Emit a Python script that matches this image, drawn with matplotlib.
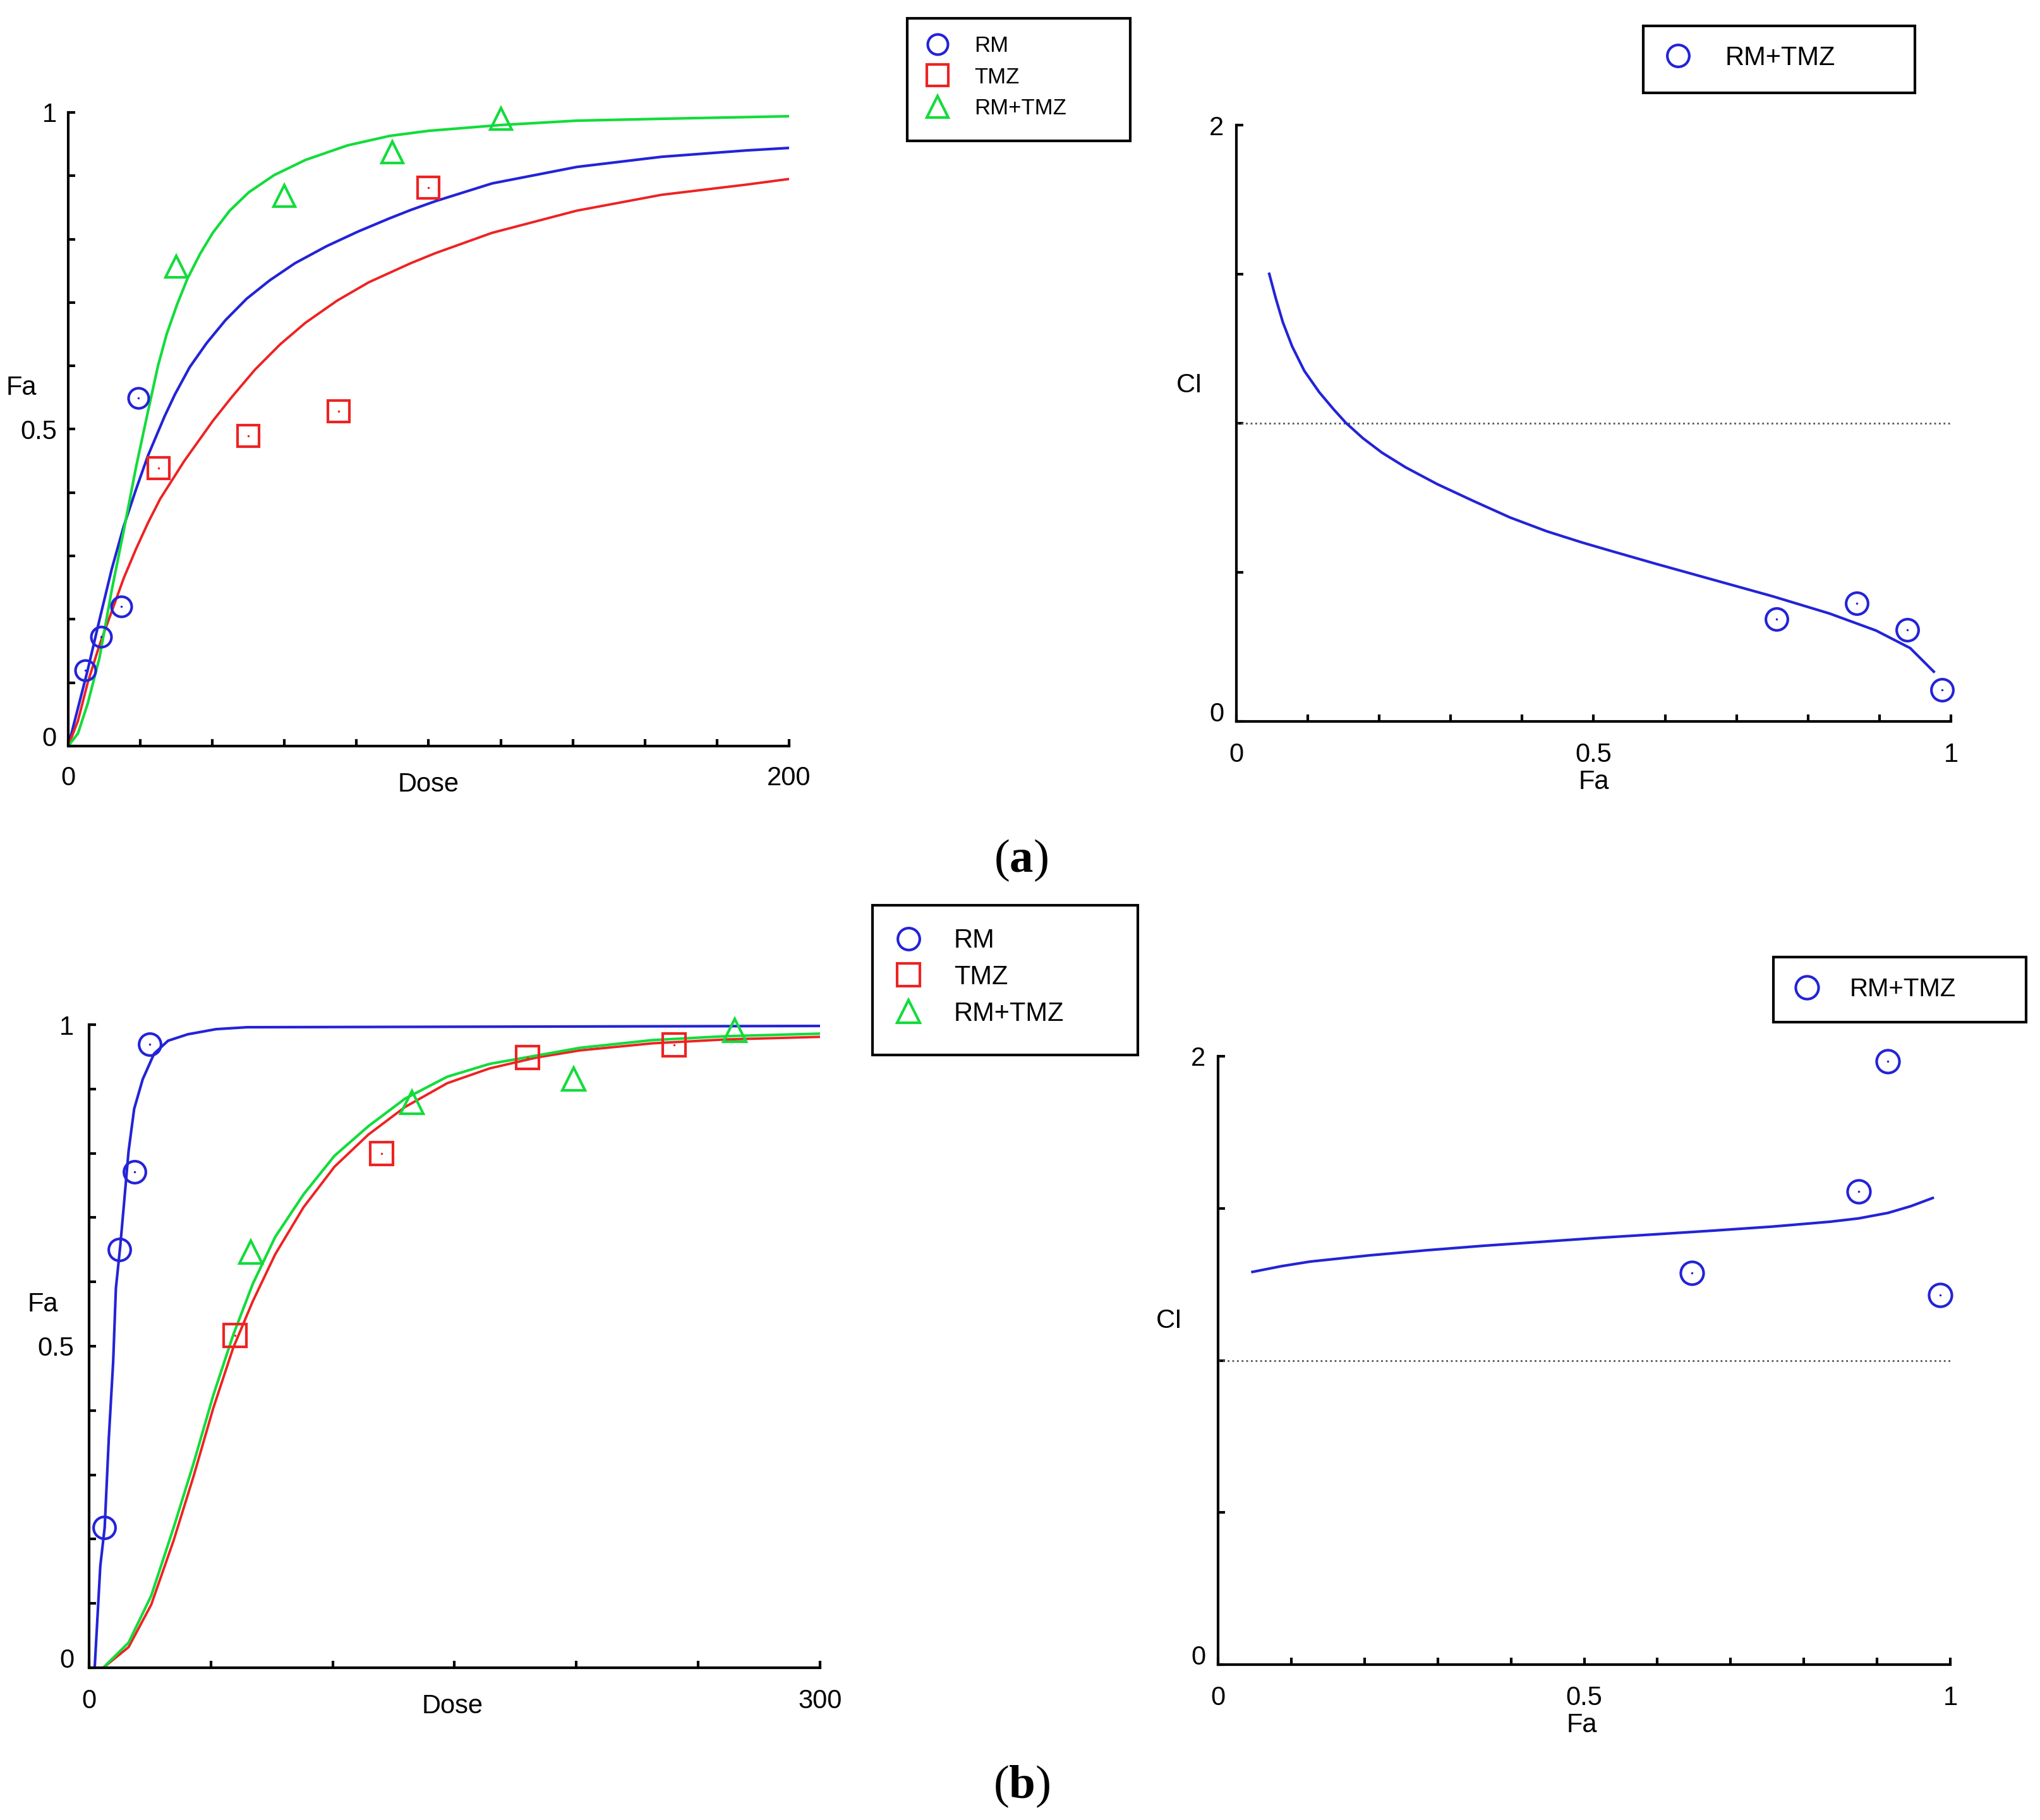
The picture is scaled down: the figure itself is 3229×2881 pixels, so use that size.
import numpy as np
import matplotlib
matplotlib.use("Agg")
import matplotlib.pyplot as plt
from matplotlib.patches import Rectangle

plt.rcParams['font.family'] = ['Liberation Sans', 'DejaVu Sans']
plt.rcParams['mathtext.fontset'] = 'custom'
plt.rcParams['mathtext.rm'] = 'Liberation Serif'
plt.rcParams['mathtext.bf'] = 'Liberation Serif:bold'

BLUE = "#2323d8"
RED = "#ee2222"
GREEN = "#12dc3a"

# ---------- panel (a) : dose-effect ----------
a_rm_dose = [4.7, 9.1, 14.8, 19.4]
a_rm_fa = [0.12, 0.172, 0.22, 0.549]
a_tmz_dose = [25, 50, 75, 100]
a_tmz_fa = [0.439, 0.49, 0.528, 0.881]
a_combo_dose = [30, 60, 90, 120]
a_combo_fa = [0.757, 0.868, 0.937, 0.99]

a_rm_curve_dose = [0, 2.7, 5.4, 8.7, 12.1, 15.4, 18.8, 22.1, 26.7, 29.6, 33.7, 38.4,
                   43.6, 49.5, 55.9, 62.9, 71.7, 80.4, 89.2, 95.0, 101.9, 117.6,
                   141.1, 164.6, 188, 200]
a_rm_curve_fa = [0, 0.06, 0.12, 0.2, 0.28, 0.347, 0.405, 0.458, 0.52, 0.555, 0.598, 0.636,
                 0.672, 0.706, 0.735, 0.762, 0.789, 0.812, 0.833, 0.846, 0.86, 0.888,
                 0.914, 0.93, 0.94, 0.944]
a_tmz_curve_dose = [0, 2.7, 5.4, 8.7, 12.1, 15.4, 18.8, 22.1, 25.5, 32.2, 40.1, 45.4,
                    51.8, 58.8, 65.8, 74.6, 83.4, 95.0, 101.9, 117.6, 141.1, 164.6, 188, 200]
a_tmz_curve_fa = [0, 0.04, 0.1, 0.16, 0.213, 0.265, 0.311, 0.352, 0.39, 0.45, 0.513, 0.551,
                  0.594, 0.634, 0.668, 0.703, 0.732, 0.762, 0.778, 0.81, 0.845, 0.87,
                  0.886, 0.895]
a_combo_curve_dose = [0, 2.7, 5.4, 8.7, 12.1, 15.4, 18.8, 21.4, 23.2, 24.9, 27.3, 30.2,
                      33.1, 36.6, 40.1, 44.8, 50.1, 57.1, 65.8, 77.5, 89.2, 100, 119.6,
                      141, 164.6, 200]
a_combo_curve_fa = [0, 0.02, 0.067, 0.14, 0.247, 0.34, 0.44, 0.509, 0.556, 0.6, 0.65,
                    0.697, 0.738, 0.777, 0.81, 0.845, 0.874, 0.901, 0.925, 0.948, 0.963,
                    0.971, 0.98, 0.987, 0.99, 0.994]

# ---------- panel (a) : CI ----------
a_ci_fa = [0.756, 0.868, 0.939, 0.988]
a_ci = [0.343, 0.396, 0.308, 0.106]
a_ci_curve_fa = [0.046, 0.055, 0.065, 0.078, 0.095, 0.116, 0.136, 0.153, 0.177, 0.204,
                 0.237, 0.281, 0.332, 0.383, 0.434, 0.484, 0.524, 0.588, 0.669, 0.75,
                 0.83, 0.895, 0.943, 0.976]
a_ci_curve = [1.501, 1.42, 1.339, 1.258, 1.176, 1.104, 1.047, 1.002, 0.95, 0.901,
              0.852, 0.796, 0.739, 0.684, 0.638, 0.6, 0.572, 0.528, 0.474, 0.42,
              0.362, 0.305, 0.246, 0.167]

# ---------- panel (b) : dose-effect ----------
b_rm_dose = [6.25, 12.5, 18.75, 25]
b_rm_fa = [0.218, 0.65, 0.771, 0.97]
b_tmz_dose = [60, 120, 180, 240]
b_tmz_fa = [0.517, 0.8, 0.949, 0.969]
b_combo_dose = [66.25, 132.5, 198.75, 265]
b_combo_fa = [0.646, 0.879, 0.916, 0.991]

b_rm_curve_dose = [2.3, 4.6, 6.4, 8.1, 9.9, 11.0, 12.8, 14.5, 16.2, 18.5, 22.0, 26.7,
                   32.4, 40.5, 52.1, 64.8, 300]
b_rm_curve_fa = [0, 0.158, 0.218, 0.357, 0.477, 0.59, 0.656, 0.729, 0.803, 0.869, 0.915,
                 0.955, 0.975, 0.985, 0.993, 0.996, 0.998]
b_tmz_curve_dose = [5.8, 16.2, 25.5, 34.7, 42.9, 51.0, 59.1, 67.2, 76.4, 88.0, 100.7,
                    114.6, 129.7, 147.0, 164.4, 183.8, 201.5, 231.3, 261.2, 300]
b_tmz_curve_fa = [0, 0.032, 0.098, 0.198, 0.298, 0.404, 0.497, 0.57, 0.643, 0.716, 0.779,
                  0.829, 0.872, 0.909, 0.932, 0.949, 0.96, 0.971, 0.977, 0.981]
b_combo_curve_dose = [5.8, 16.2, 25.5, 34.7, 42.9, 51.0, 59.1, 67.2, 76.4, 88.0, 100.7,
                      114.6, 129.7, 147.0, 164.4, 183.8, 201.5, 231.3, 261.2, 300]
b_combo_curve_fa = [0, 0.039, 0.112, 0.218, 0.318, 0.424, 0.517, 0.597, 0.67, 0.736, 0.796,
                    0.842, 0.885, 0.919, 0.939, 0.952, 0.964, 0.976, 0.982, 0.986]

# ---------- panel (b) : CI ----------
b_ci_fa = [0.647, 0.875, 0.915, 0.986]
b_ci = [1.287, 1.556, 1.984, 1.214]
b_ci_curve_fa = [0.047, 0.087, 0.126, 0.205, 0.284, 0.363, 0.442, 0.52, 0.6, 0.678,
                 0.757, 0.836, 0.875, 0.915, 0.946, 0.976]
b_ci_curve = [1.291, 1.31, 1.325, 1.345, 1.362, 1.377, 1.39, 1.403, 1.415, 1.427,
              1.44, 1.456, 1.467, 1.485, 1.507, 1.534]

W, H = 3230, 2881
fig = plt.figure(figsize=(W / 100, H / 100), dpi=100)


def px_axes(x0, x1, ybot, ytop):
    # axes from pixel box (y measured from top)
    return fig.add_axes([x0 / W, 1 - ybot / H, (x1 - x0) / W, (ybot - ytop) / H])


def style(ax, xt, xl, yt, yl, xpad, ypad):
    for s in ["top", "right"]:
        ax.spines[s].set_visible(False)
    for s in ["left", "bottom"]:
        ax.spines[s].set_linewidth(3)
    ax.set_xticks(xt)
    ax.set_xticklabels(xl)
    ax.set_yticks(yt)
    ax.set_yticklabels(yl)
    ax.tick_params(direction="in", length=8, width=3, labelsize=30)
    ax.tick_params(axis="x", pad=xpad)
    ax.tick_params(axis="y", pad=ypad)
    for lab in ax.get_yticklabels():
        if lab.get_text() == "0":
            lab.set_va("baseline")


def dots(ax, x, y, c):
    ax.plot(x, y, ls="none", marker=".", ms=3, color=c, clip_on=False)


def legend_box(x0, x1, ytop, ybot):
    fig.add_artist(Rectangle((x0 / W, 1 - ybot / H), (x1 - x0) / W, (ybot - ytop) / H,
                             transform=fig.transFigure, fill=False, lw=3, ec="black"))


def legend_at(ax, handles, labels, marker_x, yc, fs, hp, ls):
    fs_px = fs * 100 / 72
    ax.legend(handles, labels, loc="center left",
              bbox_to_anchor=((marker_x - fs_px / 2) / W, 1 - yc / H),
              bbox_transform=fig.transFigure, frameon=False, borderpad=0,
              borderaxespad=0, handlelength=1.0, handletextpad=hp,
              labelspacing=ls, fontsize=fs, numpoints=1)


mk = dict(ls="none", mfc="none", mew=3, clip_on=False)

# ===== (a) left =====
ax = px_axes(108, 1249, 1181, 178)
ax.plot(a_rm_curve_dose, a_rm_curve_fa, color=BLUE, lw=3)
ax.plot(a_tmz_curve_dose, a_tmz_curve_fa, color=RED, lw=2.8)
ax.plot(a_combo_curve_dose, a_combo_curve_fa, color=GREEN, lw=3)
h1, = ax.plot(a_rm_dose, a_rm_fa, marker="o", ms=23, mec=BLUE, **mk)
h2, = ax.plot(a_tmz_dose, a_tmz_fa, marker="s", ms=24, mec=RED, **mk)
h3, = ax.plot(a_combo_dose, a_combo_fa, marker="^", ms=24, mec=GREEN, **mk)
dots(ax, a_rm_dose, a_rm_fa, BLUE)
dots(ax, a_tmz_dose, a_tmz_fa, RED)
ax.set_xlim(0, 200)
ax.set_ylim(0, 1)
style(ax, np.arange(0, 201, 20), ["0"] + [""] * 9 + ["200"],
      np.arange(0, 1.01, 0.1), ["0", "", "", "", "", "0.5", "", "", "", "", "1"], 22, 13)
ax.text(-0.065, 0.565, "Fa", transform=ax.transAxes, fontsize=30, ha="center", va="center")
ax.text(0.50, -0.061, "Dose", transform=ax.transAxes, fontsize=30, ha="center", va="center")
legend_box(1436, 1789, 29, 223)
legend_at(ax, [h1, h2, h3], ["RM", "TMZ", "RM+TMZ"], 1484, 122, 25, 1.17, 0.47)

# ===== (a) right =====
ax = px_axes(1957, 3088, 1142, 198)
ax.axhline(1.0, color="#555555", lw=2, ls=":")
ax.plot(a_ci_curve_fa, a_ci_curve, color=BLUE, lw=3)
h4, = ax.plot(a_ci_fa, a_ci, marker="o", ms=25, mec=BLUE, **mk)
dots(ax, a_ci_fa, a_ci, BLUE)
ax.set_xlim(0, 1)
ax.set_ylim(0, 2)
style(ax, np.arange(0, 1.01, 0.1), ["0", "", "", "", "", "0.5", "", "", "", "", "1"],
      np.arange(0, 2.01, 0.5), ["0", "", "", "", "2"], 24, 14)
ax.text(-0.066, 0.564, "CI", transform=ax.transAxes, fontsize=30, ha="center", va="center")
ax.text(0.50, -0.102, "Fa", transform=ax.transAxes, fontsize=30, ha="center", va="center")
legend_box(2601, 3031, 41, 147)
legend_at(ax, [h4], ["RM+TMZ"], 2656, 92, 30, 1.28, 0.4)

# ===== (b) left =====
ax = px_axes(141, 1298, 2640, 1622)
ax.plot(b_rm_curve_dose, b_rm_curve_fa, color=BLUE, lw=3)
ax.plot(b_tmz_curve_dose, b_tmz_curve_fa, color=RED, lw=2.8)
ax.plot(b_combo_curve_dose, b_combo_curve_fa, color=GREEN, lw=3)
h1, = ax.plot(b_rm_dose, b_rm_fa, marker="o", ms=25, mec=BLUE, **mk)
h2, = ax.plot(b_tmz_dose, b_tmz_fa, marker="s", ms=26, mec=RED, **mk)
h3, = ax.plot(b_combo_dose, b_combo_fa, marker="^", ms=26, mec=GREEN, **mk)
dots(ax, b_rm_dose, b_rm_fa, BLUE)
dots(ax, b_tmz_dose, b_tmz_fa, RED)
ax.set_xlim(0, 300)
ax.set_ylim(0, 1)
style(ax, np.arange(0, 301, 50), ["0", "", "", "", "", "", "300"],
      np.arange(0, 1.01, 0.1), ["0", "", "", "", "", "0.5", "", "", "", "", "1"], 24, 17)
ax.text(-0.063, 0.565, "Fa", transform=ax.transAxes, fontsize=30, ha="center", va="center")
ax.text(0.497, -0.06, "Dose", transform=ax.transAxes, fontsize=30, ha="center", va="center")
legend_box(1381, 1801, 1433, 1670)
legend_at(ax, [h1, h2, h3], ["RM", "TMZ", "RM+TMZ"], 1438, 1547, 30, 1.23, 0.42)

# ===== (b) right =====
ax = px_axes(1928, 3087, 2635, 1672)
ax.axhline(1.0, color="#555555", lw=2, ls=":")
ax.plot(b_ci_curve_fa, b_ci_curve, color=BLUE, lw=3)
h4, = ax.plot(b_ci_fa, b_ci, marker="o", ms=26, mec=BLUE, **mk)
dots(ax, b_ci_fa, b_ci, BLUE)
ax.set_xlim(0, 1)
ax.set_ylim(0, 2)
style(ax, np.arange(0, 1.01, 0.1), ["0", "", "", "", "", "0.5", "", "", "", "", "1"],
      np.arange(0, 2.01, 0.5), ["0", "", "", "", "2"], 24, 14)
ax.text(-0.067, 0.565, "CI", transform=ax.transAxes, fontsize=30, ha="center", va="center")
ax.text(0.497, -0.10, "Fa", transform=ax.transAxes, fontsize=30, ha="center", va="center")
legend_box(2807, 3207, 1515, 1618)
legend_at(ax, [h4], ["RM+TMZ"], 2860, 1566, 29, 1.19, 0.4)

# panel letters
fig.text(0.5003, 1 - 1362 / H, r"($\mathbf{a}$)", family="Liberation Serif",
         fontsize=54, ha="center", va="center")
fig.text(0.5006, 1 - 2828 / H, r"($\mathbf{b}$)", family="Liberation Serif",
         fontsize=54, ha="center", va="center")

fig.savefig("out.png", dpi=100, facecolor="white")
